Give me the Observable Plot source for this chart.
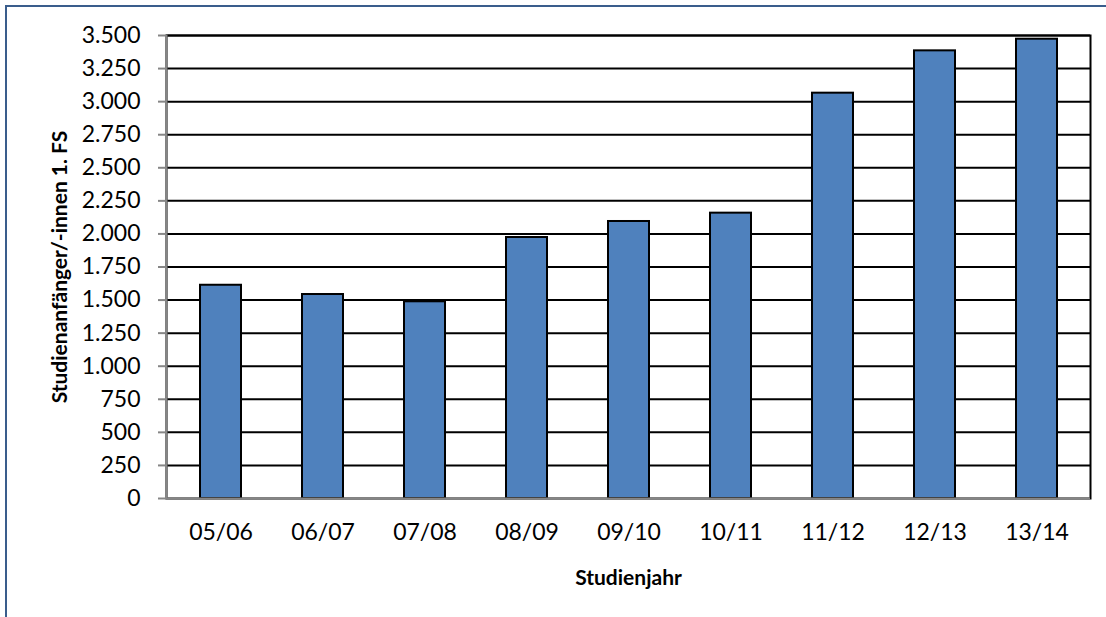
<!DOCTYPE html>
<html>
<head>
<meta charset="utf-8">
<script src="https://cdn.jsdelivr.net/npm/d3@7"></script>
<script src="https://cdn.jsdelivr.net/npm/@observablehq/plot@0.6"></script>
<style>
  html, body { margin: 0; padding: 0; background: #fff; overflow: hidden; }
  #wrap { position: relative; width: 1106px; height: 617px; overflow: hidden; }
  #border { position: absolute; left: 5px; top: 5px; width: 1300px; height: 800px; border-left: 2px solid #3a5d8c; border-top: 2px solid #3a5d8c; }
  #chart { position: absolute; left: 0; top: 0; }
</style>
</head>
<body>
<div id="wrap"><div id="border"></div><div id="chart"></div></div>
<script>
const years = ["05/06","06/07","07/08","08/09","09/10","10/11","11/12","12/13","13/14"];
const values = [1612, 1542, 1487, 1973, 2094, 2157, 3064, 3384, 3472];
const yTicks = [0,250,500,750,1000,1250,1500,1750,2000,2250,2500,2750,3000,3250,3500];
const xLabel = "Studienjahr";
const yLabel = "Studienanfänger/-innen 1. FS";

const data = years.map((y, i) => ({year: y, value: values[i]}));
const de = d3.formatLocale({decimal: ",", thousands: ".", grouping: [3], currency: ["", "€"]});
const fmt = de.format(",d");
const gray = "#868686";

const chart = Plot.plot({
  width: 1106,
  height: 617,
  marginLeft: 166,
  marginRight: 16,
  marginTop: 35,
  marginBottom: 119,
  style: {fontFamily: "Lato, 'Open Sans', sans-serif", fontSize: "23px", color: "#000", background: "transparent"},
  x: {domain: years, paddingInner: 0.6, paddingOuter: 0.3},
  y: {domain: [0, 3500]},
  marks: [
    Plot.ruleY(yTicks.filter(d => d > 0), {stroke: "#000", strokeWidth: 2}),
    Plot.frame({stroke: "#000", strokeWidth: 2}),
    Plot.barY(data, {x: "year", y: "value", fill: "#4F81BD", stroke: "#000", strokeWidth: 2}),
    Plot.ruleY([0], {stroke: gray, strokeWidth: 2}),
    Plot.frame({anchor: "left", stroke: gray, strokeWidth: 2}),
    Plot.axisY({ticks: yTicks, tickFormat: fmt, tickSize: 8, tickPadding: 18, stroke: gray, strokeWidth: 2, fill: "#000",
      label: yLabel, labelArrow: "none", labelAnchor: "center", labelOffset: 114}),
    Plot.axisX({tickSize: 0, tickPadding: 25, fill: "#000", label: null}),
    Plot.axisX({tickSize: 0, ticks: [], label: xLabel, labelArrow: "none", labelAnchor: "center", labelOffset: 86})
  ]
});
document.getElementById("chart").appendChild(chart);
// bold axis titles
chart.querySelectorAll("g[aria-label='y-axis label'] text, g[aria-label='x-axis label'] text").forEach(t => {
  t.style.fontWeight = "bold"; t.style.fontSize = "21px";
  t.textContent = t.textContent.replace(/\s*[→↑]\s*$/, "");
});
</script>
</body>
</html>
